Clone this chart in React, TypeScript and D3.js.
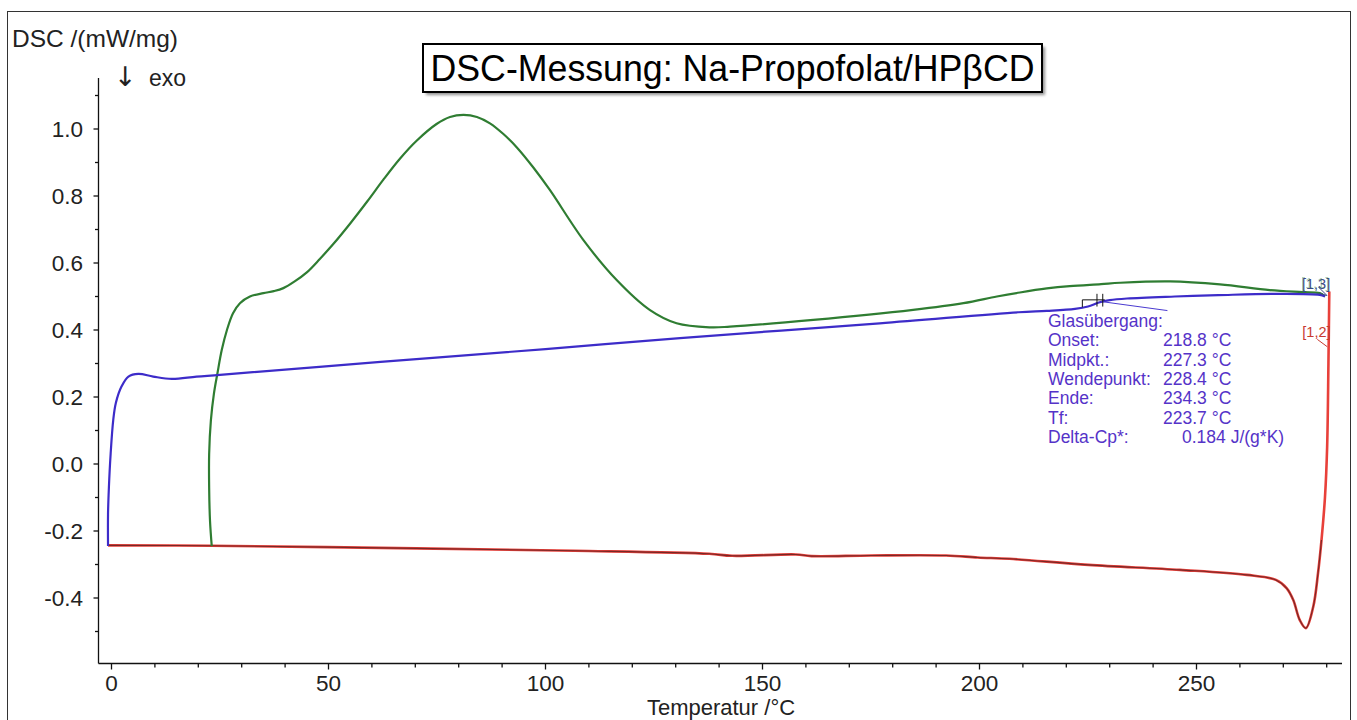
import React from 'react';
import * as d3 from 'd3';

// ---- data (temperature °C, DSC mW/mg) ----
const greenHeating1: [number, number][] = [
  [23.1, -0.245], [22.7, -0.17], [22.5, -0.07], [22.5, 0.03], [22.9, 0.13], [23.6, 0.21],
  [24.4, 0.27], [25.4, 0.34], [26.6, 0.4], [28.0, 0.45], [29.6, 0.48], [31.9, 0.5], [35.0, 0.51],
  [37.4, 0.516], [39.6, 0.525], [42.2, 0.545], [45.0, 0.572], [48.0, 0.612], [51.0, 0.655],
  [55.0, 0.718], [59.0, 0.785], [62.6, 0.848], [66.5, 0.912], [70.3, 0.965], [74.9, 1.015],
  [78.0, 1.036], [81.1, 1.042], [84.2, 1.036], [87.2, 1.017], [90.3, 0.985], [93.4, 0.945],
  [97.2, 0.885], [101.0, 0.818], [108.7, 0.669], [116.4, 0.549], [124.0, 0.46], [130.2, 0.42],
  [137.9, 0.408], [142.5, 0.41], [161.7, 0.43], [184.7, 0.46], [196.3, 0.48], [204.0, 0.5],
  [209.3, 0.512], [215.5, 0.524], [220.8, 0.531], [228.0, 0.537], [232.4, 0.541], [243.9, 0.545],
  [255.4, 0.536], [266.9, 0.519], [274.5, 0.513], [278.4, 0.51], [279.6, 0.5],
];

const redCooling: [number, number][] = [
  [280.6, 0.515], [280.4, 0.3], [280.1, 0.05], [279.6, -0.1], [278.8, -0.227], [278.0, -0.326],
  [276.9, -0.426], [275.2, -0.49], [273.8, -0.466], [272.3, -0.406], [270.8, -0.371],
  [268.3, -0.346], [261.6, -0.331], [246.2, -0.316], [225.1, -0.301], [206.9, -0.283],
  [199.6, -0.279], [192.3, -0.273], [175.0, -0.273], [161.3, -0.275], [157.7, -0.27],
  [143.0, -0.274], [137.7, -0.268], [106.7, -0.259], [70.2, -0.252], [22.9, -0.244], [-0.8, -0.243],
];

const blueHeating2: [number, number][] = [
  [-0.8, -0.245], [-0.8, -0.15], [-0.6, -0.07], [-0.2, 0.03], [0.4, 0.131], [1.0, 0.182],
  [2.3, 0.231], [3.9, 0.261], [6.2, 0.269], [9.6, 0.261], [13.9, 0.254], [19.6, 0.261],
  [25.0, 0.266], [62.0, 0.305], [100.0, 0.343], [131.0, 0.376], [177.0, 0.42], [209.0, 0.453],
  [215.5, 0.457], [222.0, 0.463], [225.0, 0.47], [227.5, 0.482], [230.0, 0.489], [234.0, 0.494],
  [245.0, 0.5], [255.0, 0.504], [268.0, 0.508], [278.4, 0.505], [279.6, 0.5],
];

const tangentLine: [number, number][] = [[228.0, 0.485], [243.3, 0.458]];

const xMajorTicks = [0, 50, 100, 150, 200, 250];
const xTickLabels = ['0', '50', '100', '150', '200', '250'];
const xMinorTicks = [10, 20, 30, 40, 60, 70, 80, 90, 110, 120, 130, 140, 160, 170, 180, 190, 210, 220, 230, 240, 260, 270, 280];
const yMajorTicks = [-0.4, -0.2, 0.0, 0.2, 0.4, 0.6, 0.8, 1.0];
const yTickLabels = ['-0.4', '-0.2', '0.0', '0.2', '0.4', '0.6', '0.8', '1.0'];
const yMinorTicks = [-0.5, -0.3, -0.1, 0.1, 0.3, 0.5, 0.7, 0.9, 1.1];

const glassLabels = ['Onset:', 'Midpkt.:', 'Wendepunkt:', 'Ende:', 'Tf:'];
const glassValues = ['218.8 °C', '227.3 °C', '228.4 °C', '234.3 °C', '223.7 °C'];
const deltaCp = '0.184 J/(g*K)';
const tfTemp = 223.7;
const midTemp = 227.3;
const inflTemp = 228.4;

const titleText = 'DSC-Messung: Na-Propofolat/HPβCD';

// ---- layout ----
const W = 1357;
const H = 720;
const FONT = 'Liberation Sans, Arial, Helvetica, sans-serif';
const x = d3.scaleLinear().domain([0, 250]).range([111.5, 1196.5]);
const y = d3.scaleLinear().domain([0, 1]).range([464, 129]);
const axisX = 98.5;
const axisY = 663.5;

const line = d3
  .line<[number, number]>()
  .x((d) => x(d[0]))
  .y((d) => y(d[1]))
  .curve(d3.curveCatmullRom.alpha(0.5));

export default function App() {
  const gx = 1048;
  const gy0 = 327;
  const dy = 19.3;
  const ann = '#5533c8';
  const redEnd = redCooling[0];
  const blueEnd = blueHeating2[blueHeating2.length - 1];
  return (
    <svg
      width={W}
      height={H}
      style={{ position: 'absolute', left: 0, top: 0, background: '#fff' }}
      fontFamily={FONT}
    >
      <defs>
        <filter id="sh" x="-5%" y="-20%" width="115%" height="160%">
          <feGaussianBlur stdDeviation="1.5" />
        </filter>
      </defs>
      <rect x={0} y={0} width={W} height={H} fill="#fff" />
      {/* frame */}
      <rect x={7.5} y={11.5} width={1343} height={740} fill="none" stroke="#333" strokeWidth={1} />

      {/* axis titles */}
      <text x={12} y={47} fontSize={24.5} fill="#222">DSC /(mW/mg)</text>
      <text y={86} fill="#222">
        <tspan x={114} fontFamily="DejaVu Sans" fontSize={27}>↓</tspan>
        <tspan x={149} fontSize={23}>exo</tspan>
      </text>

      {/* y axis */}
      <line x1={axisX} x2={axisX} y1={78} y2={axisY} stroke="#111" strokeWidth={1.3} />
      {yMajorTicks.map((t, i) => (
        <g key={'ym' + i}>
          <line x1={axisX - 5} x2={axisX} y1={y(t)} y2={y(t)} stroke="#111" strokeWidth={1.3} />
          <text x={83} y={y(t)} dy="0.36em" textAnchor="end" fontSize={22.5} fill="#222">
            {yTickLabels[i]}
          </text>
        </g>
      ))}
      {yMinorTicks.map((t, i) => (
        <line key={'yn' + i} x1={axisX - 3.5} x2={axisX} y1={y(t)} y2={y(t)} stroke="#111" strokeWidth={1.3} />
      ))}

      {/* x axis */}
      <line x1={axisX} x2={1342} y1={axisY} y2={axisY} stroke="#111" strokeWidth={1.3} />
      {xMajorTicks.map((t, i) => (
        <g key={'xm' + i}>
          <line x1={x(t)} x2={x(t)} y1={axisY} y2={axisY + 6} stroke="#111" strokeWidth={1.3} />
          <text x={x(t)} y={690.5} textAnchor="middle" fontSize={22.5} fill="#222">
            {xTickLabels[i]}
          </text>
        </g>
      ))}
      {xMinorTicks.map((t, i) => (
        <line key={'xn' + i} x1={x(t)} x2={x(t)} y1={axisY} y2={axisY + 4} stroke="#111" strokeWidth={1.3} />
      ))}
      <text x={721} y={715} textAnchor="middle" fontSize={22} fill="#222">Temperatur /°C</text>

      {/* curves */}
      <path d={line(redCooling) || ''} fill="none" stroke="#e8403a" strokeWidth={2.6} />
      <path
        d={line(redCooling.filter((d) => d[1] < -0.2)) || ''}
        fill="none"
        stroke="#5a2222"
        strokeWidth={1.1}
        opacity={0.8}
      />
      <path d={line(greenHeating1) || ''} fill="none" stroke="#2f7d32" strokeWidth={2.2} />
      <path d={line(blueHeating2) || ''} fill="none" stroke="#3d2cc9" strokeWidth={2.2} />
      <path d={line(tangentLine) || ''} fill="none" stroke="#4a3ad0" strokeWidth={1} />

      {/* glass transition marks */}
      <polyline
        points={`${x(tfTemp)},${y(0.468)} ${x(tfTemp)},${y(0.49)} ${x(inflTemp) + 2},${y(0.49)}`}
        fill="none"
        stroke="#111"
        strokeWidth={1}
      />
      <line x1={x(midTemp) - 1} x2={x(midTemp) - 1} y1={y(0.508)} y2={y(0.47)} stroke="#111" strokeWidth={1} />
      <line x1={x(inflTemp)} x2={x(inflTemp)} y1={y(0.508)} y2={y(0.47)} stroke="#111" strokeWidth={1} />

      {/* annotation text */}
      <g fontSize={17.5} fill={ann}>
        <text x={gx} y={gy0}>Glasübergang:</text>
        {glassLabels.map((l, i) => (
          <g key={'gl' + i}>
            <text x={gx} y={gy0 + dy * (i + 1)}>{l}</text>
            <text x={1163} y={gy0 + dy * (i + 1)}>{glassValues[i]}</text>
          </g>
        ))}
        <text x={gx} y={gy0 + dy * 6}>Delta-Cp*:</text>
        <text x={1182} y={gy0 + dy * 6}>{deltaCp}</text>
      </g>

      {/* segment markers */}
      <text x={x(blueEnd[0]) - 23} y={y(blueEnd[1]) - 8} fontSize={14.5} fill="#3a4a8a">[1,3]</text>
      <text x={x(blueEnd[0]) - 24} y={y(blueEnd[1]) - 9} fontSize={14.5} fill="#2f7d32" opacity={0.35}>[1,1]</text>
      <polyline
        points={`${x(blueEnd[0]) - 6},${y(blueEnd[1]) - 9} ${x(blueEnd[0]) + 2},${y(blueEnd[1]) - 1} ${x(blueEnd[0]) - 5},${y(blueEnd[1]) - 3}`}
        fill="none"
        stroke="#3a4a8a"
        strokeWidth={1}
      />
      <text x={x(redEnd[0]) - 27} y={y(0.38)} fontSize={14.5} fill="#c8392f">[1,2]</text>
      <polyline
        points={`${x(redEnd[0]) - 12},${y(0.372)} ${x(redEnd[0]) - 2},${y(0.35)}`}
        fill="none"
        stroke="#c8392f"
        strokeWidth={1}
      />

      {/* title box */}
      <rect x={426} y={47} width={619} height={48} fill="#777" filter="url(#sh)" opacity={0.8} />
      <rect x={423} y={44} width={619} height={48} fill="#fff" stroke="#000" strokeWidth={2} />
      <text
        x={732.5}
        y={81}
        textAnchor="middle"
        fontSize={36.5}
        fill="#000"
        textLength={604}
        lengthAdjust="spacingAndGlyphs"
      >
        {titleText}
      </text>
    </svg>
  );
}
